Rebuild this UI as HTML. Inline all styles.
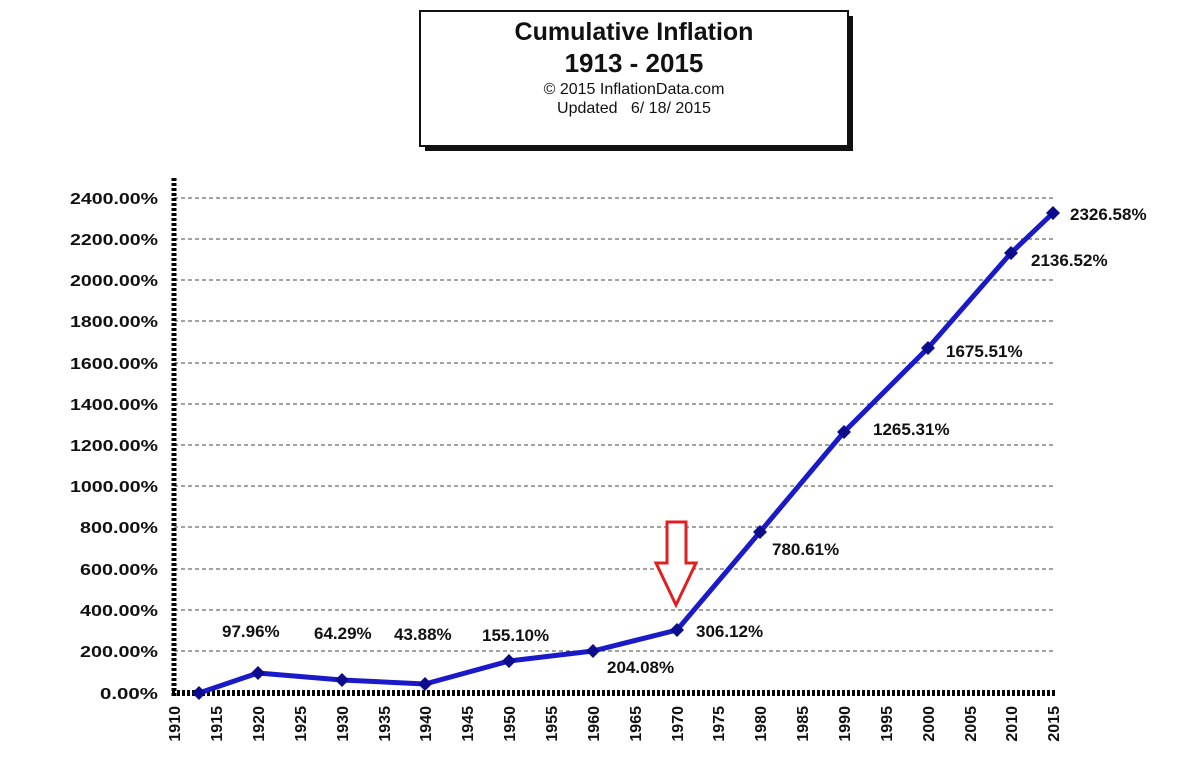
<!DOCTYPE html>
<html><head><meta charset="utf-8"><style>
html,body{margin:0;padding:0;background:#fff;width:1200px;height:780px;overflow:hidden}
text{font-family:"Liberation Sans",Arial,sans-serif;font-weight:bold;fill:#111}
</style></head><body>
<svg width="1200" height="780" viewBox="0 0 1200 780" xmlns="http://www.w3.org/2000/svg">
<rect x="425" y="16" width="428" height="135" fill="#111"/>
<rect x="420" y="11" width="428" height="135" fill="#fff" stroke="#111" stroke-width="2"/>
<text x="634" y="40" text-anchor="middle" font-size="25">Cumulative Inflation</text>
<text x="634" y="72" text-anchor="middle" font-size="26">1913 - 2015</text>
<text x="634" y="94" text-anchor="middle" font-size="16" style="font-weight:normal">© 2015 InflationData.com</text>
<text x="634" y="113" text-anchor="middle" font-size="16" style="font-weight:normal;white-space:pre" xml:space="preserve">Updated   6/ 18/ 2015</text>
<g stroke="#444" stroke-width="1" stroke-dasharray="4,3">
<line x1="174" x2="1053" y1="198" y2="198"/><line x1="174" x2="1053" y1="239" y2="239"/>
<line x1="174" x2="1053" y1="280" y2="280"/><line x1="174" x2="1053" y1="321" y2="321"/>
<line x1="174" x2="1053" y1="363" y2="363"/><line x1="174" x2="1053" y1="404" y2="404"/>
<line x1="174" x2="1053" y1="445" y2="445"/><line x1="174" x2="1053" y1="486" y2="486"/>
<line x1="174" x2="1053" y1="527" y2="527"/><line x1="174" x2="1053" y1="569" y2="569"/>
<line x1="174" x2="1053" y1="610" y2="610"/><line x1="174" x2="1053" y1="651" y2="651"/>
</g>
<line x1="174" y1="178" x2="174" y2="696" stroke="#000" stroke-width="5" stroke-dasharray="3,2"/>
<line x1="172" y1="693" x2="1055" y2="693" stroke="#000" stroke-width="6" stroke-dasharray="3,2"/>
<g font-size="16" text-anchor="end">
<text x="158" y="204" textLength="88" lengthAdjust="spacingAndGlyphs">2400.00%</text><text x="158" y="245" textLength="88" lengthAdjust="spacingAndGlyphs">2200.00%</text>
<text x="158" y="286" textLength="88" lengthAdjust="spacingAndGlyphs">2000.00%</text><text x="158" y="327" textLength="88" lengthAdjust="spacingAndGlyphs">1800.00%</text>
<text x="158" y="369" textLength="88" lengthAdjust="spacingAndGlyphs">1600.00%</text><text x="158" y="410" textLength="88" lengthAdjust="spacingAndGlyphs">1400.00%</text>
<text x="158" y="451" textLength="88" lengthAdjust="spacingAndGlyphs">1200.00%</text><text x="158" y="492" textLength="88" lengthAdjust="spacingAndGlyphs">1000.00%</text>
<text x="158" y="533" textLength="78" lengthAdjust="spacingAndGlyphs">800.00%</text><text x="158" y="575" textLength="78" lengthAdjust="spacingAndGlyphs">600.00%</text>
<text x="158" y="616" textLength="78" lengthAdjust="spacingAndGlyphs">400.00%</text><text x="158" y="657" textLength="78" lengthAdjust="spacingAndGlyphs">200.00%</text>
<text x="158" y="699" textLength="58" lengthAdjust="spacingAndGlyphs">0.00%</text>
</g>
<g font-size="16" text-anchor="end">
<text transform="translate(180,706) rotate(-90)">1910</text>
<text transform="translate(222,706) rotate(-90)">1915</text>
<text transform="translate(264,706) rotate(-90)">1920</text>
<text transform="translate(306,706) rotate(-90)">1925</text>
<text transform="translate(348,706) rotate(-90)">1930</text>
<text transform="translate(390,706) rotate(-90)">1935</text>
<text transform="translate(431,706) rotate(-90)">1940</text>
<text transform="translate(473,706) rotate(-90)">1945</text>
<text transform="translate(515,706) rotate(-90)">1950</text>
<text transform="translate(557,706) rotate(-90)">1955</text>
<text transform="translate(599,706) rotate(-90)">1960</text>
<text transform="translate(641,706) rotate(-90)">1965</text>
<text transform="translate(683,706) rotate(-90)">1970</text>
<text transform="translate(724,706) rotate(-90)">1975</text>
<text transform="translate(766,706) rotate(-90)">1980</text>
<text transform="translate(808,706) rotate(-90)">1985</text>
<text transform="translate(850,706) rotate(-90)">1990</text>
<text transform="translate(892,706) rotate(-90)">1995</text>
<text transform="translate(934,706) rotate(-90)">2000</text>
<text transform="translate(976,706) rotate(-90)">2005</text>
<text transform="translate(1017,706) rotate(-90)">2010</text>
<text transform="translate(1059,706) rotate(-90)">2015</text>
</g>
<polyline fill="none" stroke="#1a1ac8" stroke-width="5" stroke-linejoin="round" points="199,693 258,673 342,680 425,684 509,661 593,651 677,630 760,532 844,432 928,348 1011,253 1053,213"/>
<g fill="#0c0c8c">
<path d="M199,686l7,7l-7,7l-7,-7z"/><path d="M258,666l7,7l-7,7l-7,-7z"/>
<path d="M342,673l7,7l-7,7l-7,-7z"/><path d="M425,677l7,7l-7,7l-7,-7z"/>
<path d="M509,654l7,7l-7,7l-7,-7z"/><path d="M593,644l7,7l-7,7l-7,-7z"/>
<path d="M677,623l7,7l-7,7l-7,-7z"/><path d="M760,525l7,7l-7,7l-7,-7z"/>
<path d="M844,425l7,7l-7,7l-7,-7z"/><path d="M928,341l7,7l-7,7l-7,-7z"/>
<path d="M1011,246l7,7l-7,7l-7,-7z"/><path d="M1053,206l7,7l-7,7l-7,-7z"/>
</g>
<g font-size="17">
<text x="222" y="637">97.96%</text><text x="314" y="639">64.29%</text>
<text x="394" y="640">43.88%</text><text x="482" y="641">155.10%</text>
<text x="607" y="673">204.08%</text><text x="696" y="637">306.12%</text>
<text x="772" y="555">780.61%</text><text x="873" y="435">1265.31%</text>
<text x="946" y="357">1675.51%</text><text x="1031" y="266">2136.52%</text>
<text x="1070" y="220">2326.58%</text>
</g>
<path d="M667,522h19v41h10l-20,42l-20,-42h11z" fill="#fff" stroke="#e02020" stroke-width="3"/>
</svg>
</body></html>
